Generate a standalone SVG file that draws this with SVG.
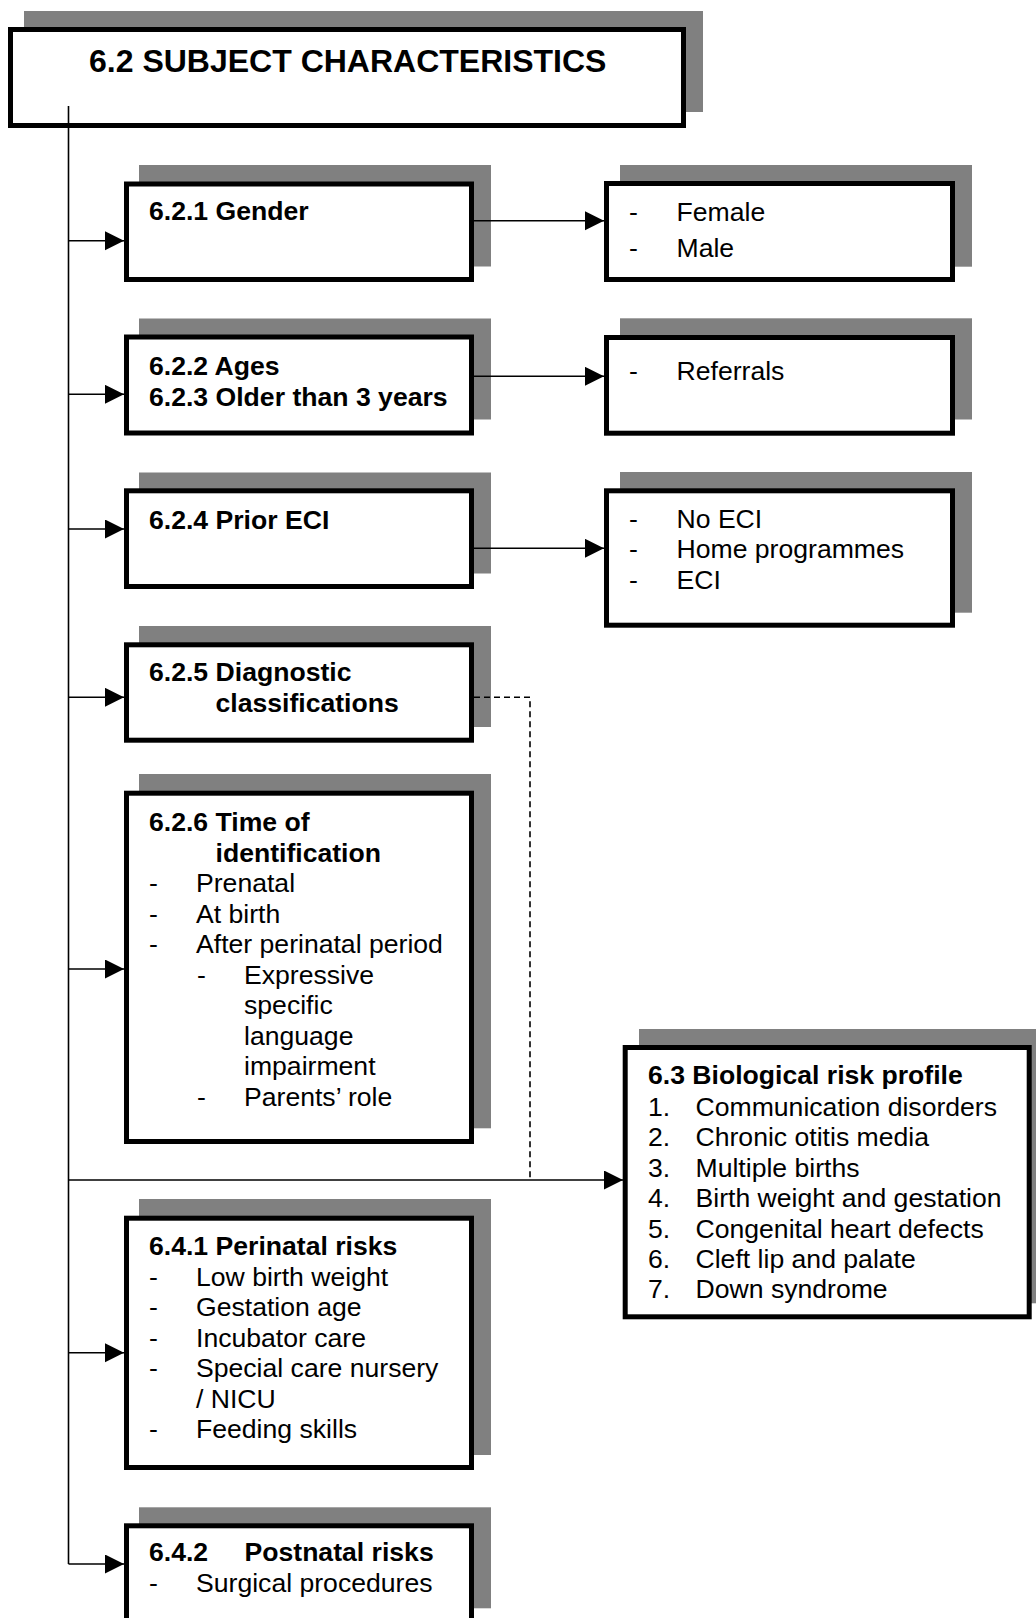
<svg xmlns="http://www.w3.org/2000/svg" width="1036" height="1618" viewBox="0 0 1036 1618">
<style>
.sh{fill:#808080;stroke:none}
.bx{fill:#fff;stroke:#000;stroke-width:5}
.t{font-family:"Liberation Sans",Arial,sans-serif;font-size:26.6px;fill:#000}
.b{font-weight:bold}
.ttl{font-family:"Liberation Sans",Arial,sans-serif;font-size:32px;font-weight:bold;fill:#000}
.ln{fill:none;stroke:#000;stroke-width:1.6}
.dash{fill:none;stroke:#000;stroke-width:1.6;stroke-dasharray:6 4}
</style>
<defs>
<marker id="ah" markerUnits="userSpaceOnUse" markerWidth="20" markerHeight="20" refX="19" refY="9.5" orient="auto">
<path d="M0,0 L19,9.5 L0,19 Z" fill="#000"/>
</marker>
</defs>

<g id="title">
<rect class="sh" x="24" y="11" width="679" height="101"/>
<rect class="bx" x="10.5" y="29.5" width="673" height="96"/>
<text class="ttl" x="89" y="71.7">6.2 SUBJECT CHARACTERISTICS</text>
</g>

<g id="n621">
<rect class="sh" x="139" y="165" width="352" height="101.5"/>
<rect class="bx" x="126.5" y="184" width="345" height="95.5"/>
<text class="t b" x="149" y="220">6.2.1 Gender</text>
</g>

<g id="n622">
<rect class="sh" x="139" y="318.5" width="352" height="101"/>
<rect class="bx" x="126.5" y="337" width="345" height="96"/>
<text class="t b" x="149" y="375">6.2.2 Ages</text>
<text class="t b" x="149" y="406">6.2.3 Older than 3 years</text>
</g>

<g id="n624">
<rect class="sh" x="139" y="472.5" width="352" height="101"/>
<rect class="bx" x="126.5" y="490.8" width="345" height="95.7"/>
<text class="t b" x="149" y="529.3">6.2.4 Prior ECI</text>
</g>

<g id="n625">
<rect class="sh" x="139" y="626" width="352" height="101"/>
<rect class="bx" x="126.5" y="644.8" width="345" height="95.4"/>
<text class="t b" x="149" y="681">6.2.5 Diagnostic</text>
<text class="t b" x="215.5" y="712">classifications</text>
</g>

<g id="n626">
<rect class="sh" x="139" y="774" width="352" height="354.3"/>
<rect class="bx" x="126.5" y="793.2" width="345" height="348.3"/>
<text class="t b" x="149" y="831">6.2.6 Time of</text>
<text class="t b" x="215.5" y="861.5">identification</text>
<text class="t" x="149" y="892">-</text><text class="t" x="196" y="892">Prenatal</text>
<text class="t" x="149" y="922.5">-</text><text class="t" x="196" y="922.5">At birth</text>
<text class="t" x="149" y="953">-</text><text class="t" x="196" y="953">After perinatal period</text>
<text class="t" x="197" y="983.5">-</text><text class="t" x="244" y="983.5">Expressive</text>
<text class="t" x="244" y="1014">specific</text>
<text class="t" x="244" y="1044.5">language</text>
<text class="t" x="244" y="1075">impairment</text>
<text class="t" x="197" y="1106">-</text><text class="t" x="244" y="1106">Parents’ role</text>
</g>

<g id="n641">
<rect class="sh" x="139" y="1199" width="352" height="256"/>
<rect class="bx" x="126.5" y="1218.2" width="345" height="249.3"/>
<text class="t b" x="149" y="1255">6.4.1 Perinatal risks</text>
<text class="t" x="149" y="1285.5">-</text><text class="t" x="196" y="1285.5">Low birth weight</text>
<text class="t" x="149" y="1316">-</text><text class="t" x="196" y="1316">Gestation age</text>
<text class="t" x="149" y="1346.5">-</text><text class="t" x="196" y="1346.5">Incubator care</text>
<text class="t" x="149" y="1377">-</text><text class="t" x="196" y="1377">Special care nursery</text>
<text class="t" x="196" y="1407.5">/ NICU</text>
<text class="t" x="149" y="1438">-</text><text class="t" x="196" y="1438">Feeding skills</text>
</g>

<g id="n642">
<rect class="sh" x="139" y="1507.3" width="352" height="101"/>
<rect class="bx" x="126.5" y="1525.8" width="345" height="96"/>
<text class="t b" x="149" y="1561">6.4.2</text>
<text class="t b" x="244.5" y="1561">Postnatal risks</text>
<text class="t" x="149" y="1591.7">-</text><text class="t" x="196" y="1591.7">Surgical procedures</text>
</g>

<g id="gender">
<rect class="sh" x="620" y="165" width="352" height="101.7"/>
<rect class="bx" x="606.5" y="183.5" width="346" height="96"/>
<text class="t" x="629" y="220.7">-</text><text class="t" x="676.5" y="220.7">Female</text>
<text class="t" x="629" y="256.7">-</text><text class="t" x="676.5" y="256.7">Male</text>
</g>

<g id="ages">
<rect class="sh" x="620" y="318.3" width="352" height="101.2"/>
<rect class="bx" x="606.5" y="337.5" width="346" height="95.7"/>
<text class="t" x="629" y="380">-</text><text class="t" x="676.5" y="380">Referrals</text>
</g>

<g id="eci">
<rect class="sh" x="620" y="472" width="352" height="140.7"/>
<rect class="bx" x="606.5" y="490.8" width="346" height="134.4"/>
<text class="t" x="629" y="527.7">-</text><text class="t" x="676.5" y="527.7">No ECI</text>
<text class="t" x="629" y="558.3">-</text><text class="t" x="676.5" y="558.3">Home programmes</text>
<text class="t" x="629" y="589.3">-</text><text class="t" x="676.5" y="589.3">ECI</text>
</g>

<g id="n63">
<rect class="sh" x="639" y="1029" width="409" height="274.3"/>
<rect class="bx" x="625.2" y="1047.5" width="404" height="269.3"/>
<text class="t b" x="648" y="1084">6.3 Biological risk profile</text>
<text class="t" x="648" y="1115.7">1.</text><text class="t" x="695.5" y="1115.7">Communication disorders</text>
<text class="t" x="648" y="1146">2.</text><text class="t" x="695.5" y="1146">Chronic otitis media</text>
<text class="t" x="648" y="1176.7">3.</text><text class="t" x="695.5" y="1176.7">Multiple births</text>
<text class="t" x="648" y="1207.3">4.</text><text class="t" x="695.5" y="1207.3">Birth weight and gestation</text>
<text class="t" x="648" y="1237.7">5.</text><text class="t" x="695.5" y="1237.7">Congenital heart defects</text>
<text class="t" x="648" y="1268.3">6.</text><text class="t" x="695.5" y="1268.3">Cleft lip and palate</text>
<text class="t" x="648" y="1298.3">7.</text><text class="t" x="695.5" y="1298.3">Down syndrome</text>
</g>

<g id="connectors">
<path class="ln" d="M68.5,106 V1564"/>
<path class="ln" d="M68.5,240.7 H124" marker-end="url(#ah)"/>
<path class="ln" d="M68.5,394.3 H124" marker-end="url(#ah)"/>
<path class="ln" d="M68.5,529 H124" marker-end="url(#ah)"/>
<path class="ln" d="M68.5,697.3 H124" marker-end="url(#ah)"/>
<path class="ln" d="M68.5,969 H124" marker-end="url(#ah)"/>
<path class="ln" d="M68.5,1352.7 H124" marker-end="url(#ah)"/>
<path class="ln" d="M68.5,1564 H124" marker-end="url(#ah)"/>
<path class="ln" d="M68.5,1180 H623" marker-end="url(#ah)"/>
<path class="ln" d="M474,220.7 H604" marker-end="url(#ah)"/>
<path class="ln" d="M474,376.3 H604" marker-end="url(#ah)"/>
<path class="ln" d="M474,548.3 H604" marker-end="url(#ah)"/>
<path class="dash" d="M474,697.3 H530 V1180"/>
</g>
</svg>
